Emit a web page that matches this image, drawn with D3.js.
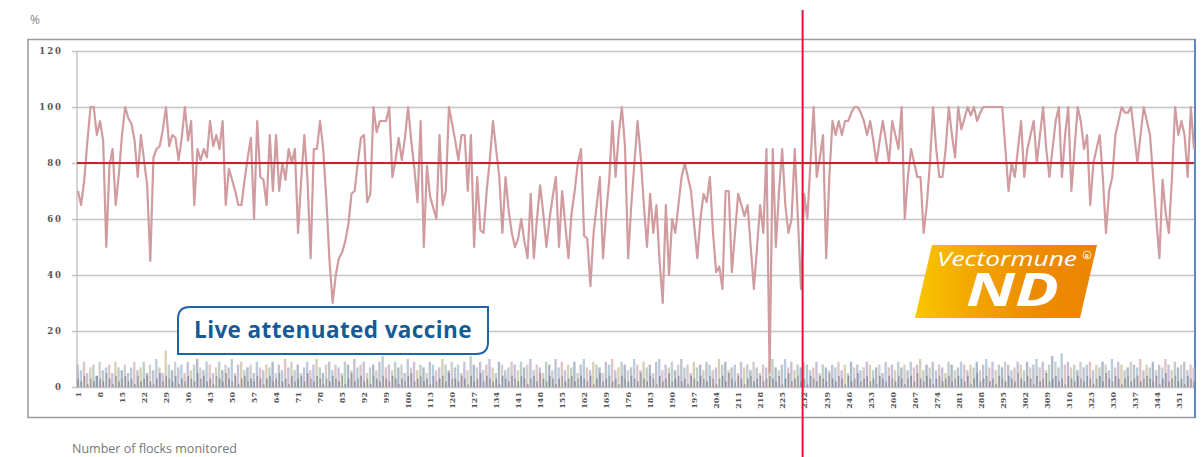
<!DOCTYPE html>
<html>
<head>
<meta charset="utf-8">
<script src="https://cdn.jsdelivr.net/npm/d3@7"></script>
<style>
  html, body { margin: 0; padding: 0; background: #fff; }
  svg { display: block; }
</style>
</head>
<body>
<div id="chart"></div>
<script>
// 감시 대상 계군 수 (1..356) 및 방어율(%) 데이터
const protectionPct = [
  70,65,74,88,100,100,90,95,88,50, 79,85,65,76,90,100,96,94,88,75,
  90,81,72,45,82,85,86,92,100,86, 90,89,81,89,100,88,95,65,85,81,
  85,82,95,86,90,85,95,65,78,74, 70,65,65,74,82,89,60,95,75,74,
  65,90,70,90,70,80,74,85,80,85, 55,74,90,74,46,85,85,95,85,67,
  45,30,40,46,48,52,58,69,70,80, 89,90,66,69,100,91,95,95,95,100,
  75,81,89,81,89,100,88,78,66,95, 50,79,68,64,60,90,65,70,100,94,
  88,81,90,90,70,90,50,75,56,55, 70,81,95,85,75,55,75,63,55,50,
  53,60,52,46,69,46,60,72,62,50, 60,68,75,50,70,58,46,62,70,80,
  85,54,53,36,55,65,75,46,62,74, 95,75,90,100,86,46,65,80,95,82,
  65,50,69,55,65,45,30,65,40,60, 55,65,75,80,75,70,58,46,60,69,
  66,75,55,41,43,35,70,70,41,55, 69,65,61,65,50,35,50,65,55,85,
  5,85,50,70,85,65,55,60,85,60, 35,69,60,80,100,75,82,90,46,75,
  95,90,95,90,95,95,98,100,100,98, 95,90,95,88,80,88,95,88,80,95,
  90,85,100,60,75,85,80,75,75,55, 65,80,100,85,75,75,85,100,90,82,
  100,92,96,100,97,100,95,98,100,100, 100,100,100,100,100,85,70,80,75,85,
  95,75,85,90,95,80,90,100,85,75, 85,95,100,75,90,100,70,85,100,95,
  85,90,65,80,85,90,75,55,70,75, 90,95,100,98,98,100,90,80,90,100,
  95,90,75,60,46,74,62,55,75,100, 90,95,90,75,100,85
];

const flocksPale = [
  8,6,9,5,7,8,4,9,6,7,8,5,9,7,6,8,5,7,9,6,
  7,9,5,8,6,10,7,5,13,8,6,9,7,8,5,9,6,8,10,7,
  6,9,8,5,7,9,6,8,7,10,5,8,9,6,7,8,5,9,7,6,
  8,7,9,5,8,6,10,7,9,6,8,5,7,9,6,8,10,7,5,8,
  9,6,8,7,5,9,8,6,10,7,8,9,5,7,8,6,9,11,7,8,
  6,9,7,8,5,10,7,9,6,8,7,5,9,8,6,7,10,8,6,9,
  7,8,5,9,6,11,8,7,9,6,8,10,7,5,9,8,6,7,9,8,
  6,9,7,8,10,6,8,7,5,9,8,6,10,7,9,6,8,7,9,5,
  8,10,7,6,9,8,7,5,9,8,10,6,7,9,8,6,7,10,8,6,
  9,7,8,5,9,10,6,8,7,9,6,8,10,7,8,5,9,7,8,6,
  9,8,6,7,10,8,9,6,7,8,5,9,7,8,6,9,7,5,8,7,
  9,10,7,6,8,10,7,9,6,8,7,9,8,6,7,9,5,8,7,6,
  8,7,9,6,8,5,9,7,8,6,7,9,8,6,7,8,5,9,7,8,
  6,9,7,8,6,9,7,8,10,6,8,7,9,6,8,7,5,9,8,6,
  7,9,8,6,8,7,9,6,8,10,7,9,6,8,7,9,8,6,7,9,
  8,6,9,7,8,10,7,9,6,8,11,9,7,12,8,9,7,8,6,9,
  7,8,9,6,8,7,9,8,6,10,7,9,8,6,7,9,8,7,10,6,
  8,7,9,6,8,7,10,8,6,9,7,8,9,6,8,7
];

const flocksDark = [
  3,2,4,1,3,2,4,3,2,5,3,1,4,2,3,4,2,3,1,4,
  2,3,4,2,1,3,5,2,4,3,2,4,1,3,2,4,3,2,5,3,
  4,2,3,1,4,3,2,5,3,2,4,1,3,4,2,3,2,4,3,1,
  3,4,2,3,5,2,3,1,4,2,3,4,2,5,3,2,4,3,1,3,
  2,4,3,2,4,1,3,5,2,3,4,2,3,1,4,3,2,4,3,2,
  4,3,1,3,2,4,5,2,3,4,2,3,1,4,2,3,4,2,5,3,
  3,2,4,3,1,4,2,3,5,2,4,3,2,3,1,4,3,2,4,3,
  2,4,3,1,3,4,2,5,3,2,4,3,1,3,4,2,3,4,2,3,
  4,3,2,4,1,3,5,2,3,4,2,3,1,4,3,2,4,3,2,5,
  3,2,4,3,1,4,2,3,5,2,3,4,2,3,1,4,3,2,4,3,
  2,4,3,1,3,4,2,5,3,2,4,3,1,3,4,2,3,4,2,3,
  4,3,2,4,1,3,5,2,3,4,2,3,1,4,3,2,4,3,2,5,
  3,2,4,3,1,4,2,3,5,2,3,4,2,3,1,4,3,2,4,3,
  2,4,3,1,3,4,2,5,3,2,4,3,1,3,4,2,3,4,2,3,
  4,3,2,4,1,3,5,2,3,4,2,3,1,4,3,2,4,3,2,5,
  3,2,4,3,1,4,2,3,5,2,3,4,2,3,1,4,3,2,4,3,
  2,4,3,1,3,4,2,5,3,2,4,3,1,3,4,2,3,4,2,3,
  4,3,2,4,1,3,5,2,3,4,2,3,1,4,3,2
];

const yTicks = [0, 20, 40, 60, 80, 100, 120];
const xTicks = [];
for (let t = 1; t <= 351; t += 7) xTicks.push(t);
const targetPct = 80;
const switchPoint = 231.5;

const W = 1202, H = 457;
const plot = { left: 77, right: 1194, top: 51, bottom: 387 };

const svg = d3.select('#chart').append('svg')
  .attr('width', W).attr('height', H)
  .style('font-family', "'Open Sans', sans-serif");

const x = d3.scaleLinear().domain([1, protectionPct.length]).range([plot.left + 1, plot.right]);
const y = d3.scaleLinear().domain([0, 120]).range([plot.bottom, plot.top]);

// 외곽 박스
svg.append('rect')
  .attr('x', 28).attr('y', 39.5).attr('width', 1167).attr('height', 378)
  .attr('fill', 'none').attr('stroke', '#9a9a9a').attr('stroke-width', 1.5);
svg.append('line')
  .attr('x1', 1195).attr('x2', 1195).attr('y1', 39).attr('y2', 418)
  .attr('stroke', '#3f7fc0').attr('stroke-width', 1.5);

// Y축 + 그리드
const yAxis = svg.append('g')
  .attr('transform', `translate(72,0)`)
  .call(d3.axisLeft(y).tickValues(yTicks).tickSize(-(plot.right - 72)).tickPadding(9));
yAxis.select('.domain').remove();
yAxis.selectAll('.tick line').attr('stroke', '#c4c4c4').attr('stroke-width', 1.5);
yAxis.selectAll('text')
  .attr('fill', '#555').style('font-family', "'DejaVu Serif', serif")
  .style('font-size', '8.5px').style('font-weight', 'bold').style('letter-spacing', '2px');

svg.append('line')
  .attr('x1', plot.left).attr('x2', plot.left).attr('y1', plot.top).attr('y2', plot.bottom)
  .attr('stroke', '#c4c4c4').attr('stroke-width', 1.5);

// X축 라벨 (세로)
const xAxis = svg.append('g')
  .attr('transform', `translate(0,${plot.bottom})`)
  .call(d3.axisBottom(x).tickValues(xTicks).tickSize(0).tickFormat(d3.format('d')));
xAxis.select('.domain').remove();
xAxis.selectAll('text')
  .attr('transform', 'rotate(-90)')
  .attr('x', -5).attr('y', 0).attr('dy', '0.35em')
  .style('text-anchor', 'end')
  .attr('fill', '#555').style('font-family', "'DejaVu Serif', serif")
  .style('font-size', '8px').style('font-weight', 'bold');

// 계군 수 막대
const pale = ['#b9b9c6', '#aec4d8', '#d9bcbc', '#bfb6d6', '#d2c8ae', '#b4c8bd', '#a2adbf', '#c8c8c8'];
const dark = ['#7f7f8c', '#74889c', '#9a8282', '#857c9c', '#8c968b'];
const idx = d3.range(protectionPct.length);

svg.append('g').selectAll('rect')
  .data(idx)
  .join('rect')
  .attr('x', i => x(i + 1) - 1.5)
  .attr('y', i => y(flocksPale[i]))
  .attr('width', 2.4)
  .attr('height', i => y(0) - y(flocksPale[i]))
  .attr('fill', i => pale[i % pale.length])
  .attr('opacity', 0.85);

svg.append('g').selectAll('rect')
  .data(idx)
  .join('rect')
  .attr('x', i => x(i + 1) - 0.6)
  .attr('y', i => y(flocksDark[i]))
  .attr('width', 1.6)
  .attr('height', i => y(0) - y(flocksDark[i]))
  .attr('fill', i => dark[i % dark.length])
  .attr('opacity', 0.75);

// 방어율 라인
svg.append('path')
  .datum(protectionPct)
  .attr('fill', 'none')
  .attr('stroke', '#d09ca0')
  .attr('stroke-width', 2.2)
  .attr('stroke-linejoin', 'round')
  .attr('d', d3.line().x((d, i) => x(i + 1)).y(d => y(d)));

// 80% 기준선
svg.append('line')
  .attr('x1', plot.left).attr('x2', plot.right)
  .attr('y1', y(targetPct)).attr('y2', y(targetPct))
  .attr('stroke', '#c0272d').attr('stroke-width', 2);

// 백신 전환 시점
svg.append('line')
  .attr('x1', x(switchPoint)).attr('x2', x(switchPoint))
  .attr('y1', 10).attr('y2', H)
  .attr('stroke', '#e3123c').attr('stroke-width', 2);

// 라벨
svg.append('text').attr('x', 30).attr('y', 24).text('%')
  .attr('fill', '#888').style('font-size', '12px');
svg.append('text').attr('x', 72).attr('y', 453).text('Number of flocks monitored')
  .attr('fill', '#777').style('font-size', '12.5px');

// Live attenuated vaccine 박스
const bx0 = 178, by0 = 307, bx1 = 488, by1 = 354, r = 12;
svg.append('path')
  .attr('d', `M${bx0},${by0 + r} Q${bx0},${by0} ${bx0 + r},${by0} L${bx1},${by0} L${bx1},${by1 - r} Q${bx1},${by1} ${bx1 - r},${by1} L${bx0},${by1} Z`)
  .attr('fill', '#fff').attr('stroke', '#1d64a8').attr('stroke-width', 2);
svg.append('text')
  .attr('x', (bx0 + bx1) / 2).attr('y', 338)
  .attr('text-anchor', 'middle')
  .text('Live attenuated vaccine')
  .attr('fill', '#175a98')
  .style('font-size', '22.5px').style('font-weight', 'bold').style('letter-spacing', '0.4px');

// Vectormune ND 로고
const defs = svg.append('defs');
const grad = defs.append('linearGradient').attr('id', 'logoGrad')
  .attr('x1', '0%').attr('x2', '100%').attr('y1', '0%').attr('y2', '0%');
grad.append('stop').attr('offset', '0%').attr('stop-color', '#f9c600');
grad.append('stop').attr('offset', '35%').attr('stop-color', '#f2a300');
grad.append('stop').attr('offset', '65%').attr('stop-color', '#ed8c00');
grad.append('stop').attr('offset', '100%').attr('stop-color', '#ea8400');

svg.append('polygon')
  .attr('points', '932,245 1097,245 1080,318 915,318')
  .attr('fill', 'url(#logoGrad)');
svg.append('text')
  .attr('x', 937).attr('y', 266)
  .attr('textLength', 140).attr('lengthAdjust', 'spacingAndGlyphs')
  .text('Vectormune')
  .attr('fill', '#fff')
  .style('font-size', '20px').style('font-style', 'italic');
svg.append('circle').attr('cx', 1087).attr('cy', 255).attr('r', 4)
  .attr('fill', 'none').attr('stroke', '#fff').attr('stroke-width', 0.8);
svg.append('text').attr('x', 1087).attr('y', 257.5).attr('text-anchor', 'middle')
  .text('R').attr('fill', '#fff').style('font-size', '6px').style('font-weight', 'bold');
svg.append('text')
  .attr('x', 966).attr('y', 306)
  .attr('textLength', 93).attr('lengthAdjust', 'spacingAndGlyphs')
  .text('ND')
  .attr('fill', '#fff')
  .style('font-size', '46px').style('font-weight', 'bold').style('font-style', 'italic');
</script>
</body>
</html>
